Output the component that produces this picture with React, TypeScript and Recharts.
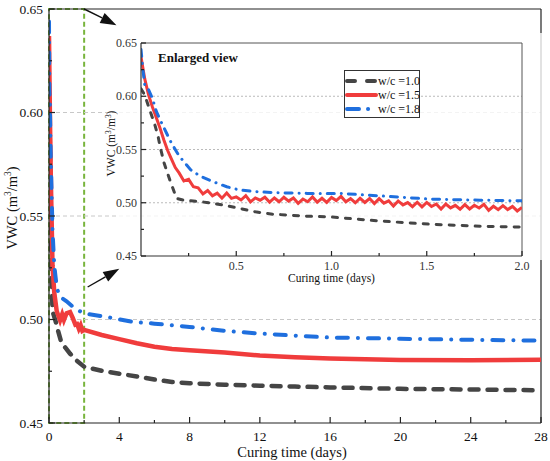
import React from 'react';
import { LineChart, Line, XAxis, YAxis, ReferenceLine, ReferenceArea, Legend } from 'recharts';

const FONT = '"Liberation Serif", "Times New Roman", serif';

// ---------- main chart data (curing time in days, VWC) ----------
const mainT10 = [0, 0.05, 0.1, 0.15, 0.2, 0.35, 0.5, 0.7, 0.9, 1.2, 1.6, 2, 3, 4, 5, 6, 7, 8, 10, 12, 14, 16, 20, 24, 28];
const mainV10 = [0.607, 0.585, 0.553, 0.522, 0.504, 0.5, 0.495, 0.489, 0.4867, 0.4835, 0.48, 0.4772, 0.4752, 0.4738, 0.4725, 0.471, 0.4698, 0.4692, 0.4685, 0.468, 0.4676, 0.4672, 0.4665, 0.4662, 0.4658];

const mainT15 = [0, 0.05, 0.1, 0.2, 0.3, 0.44, 0.63, 0.75, 0.85, 1.0, 1.2, 1.35, 1.5, 1.6, 1.7, 1.8, 1.9, 2.0, 3, 4, 5, 6, 7, 8, 10, 12, 14, 16, 20, 24, 28];
const mainV15 = [0.637, 0.6, 0.57, 0.526, 0.513, 0.504, 0.4996, 0.5025, 0.4998, 0.503, 0.5036, 0.5008, 0.4975, 0.4978, 0.4955, 0.4972, 0.4945, 0.495, 0.4925, 0.4905, 0.4885, 0.4868, 0.4858, 0.4851, 0.484, 0.4826, 0.4818, 0.4812, 0.4804, 0.4803, 0.4805];

const mainT18 = [0, 0.02, 0.05, 0.1, 0.2, 0.3, 0.45, 0.63, 1.0, 1.38, 1.95, 3.3, 4.8, 6, 8, 10, 12, 14, 16, 20, 24, 28];
const mainV18 = [0.644, 0.61, 0.604, 0.578, 0.543, 0.526, 0.515, 0.5109, 0.5088, 0.506, 0.503, 0.5012, 0.4988, 0.498, 0.4964, 0.4945, 0.4932, 0.4922, 0.4913, 0.4907, 0.4902, 0.4898];

// ---------- inset (enlarged view, 0–2 days) ----------
const insetT10 = [0, 0.02, 0.05, 0.073, 0.09, 0.1, 0.12, 0.152, 0.187, 0.22, 0.345, 0.43, 0.52, 0.6, 0.69, 0.87, 1.0, 1.25, 1.52, 1.78, 2.0];
const insetV10 = [0.607, 0.601, 0.585, 0.573, 0.562, 0.553, 0.538, 0.521, 0.504, 0.5025, 0.5003, 0.498, 0.4946, 0.4915, 0.4893, 0.4874, 0.4866, 0.4829, 0.4798, 0.4779, 0.4772];

const insetT15 = [
  0, 0.02, 0.04, 0.06, 0.08, 0.1, 0.12, 0.14, 0.16, 0.18,
  0.2, 0.225, 0.25, 0.275, 0.3, 0.325, 0.35, 0.375, 0.4, 0.425, 0.45, 0.475,
  0.5, 0.525, 0.55, 0.575, 0.6, 0.625, 0.65, 0.675, 0.7, 0.725, 0.75, 0.775,
  0.8, 0.825, 0.85, 0.875, 0.9, 0.925, 0.95, 0.975, 1.0, 1.025, 1.05, 1.075,
  1.1, 1.125, 1.15, 1.175, 1.2, 1.225, 1.25, 1.275, 1.3, 1.325, 1.35, 1.375,
  1.4, 1.425, 1.45, 1.475, 1.5, 1.525, 1.55, 1.575, 1.6, 1.625, 1.65, 1.675,
  1.7, 1.725, 1.75, 1.775, 1.8, 1.825, 1.85, 1.875, 1.9, 1.925, 1.95, 1.975, 2.0,
];
const insetV15 = [
  0.637, 0.616, 0.601, 0.59, 0.58, 0.57, 0.559, 0.549, 0.541, 0.533,
  0.528, 0.5205, 0.522, 0.515, 0.514, 0.5082, 0.5115, 0.5065, 0.509, 0.5043, 0.5092, 0.5041,
  0.5055, 0.5026, 0.5067, 0.5008, 0.5045, 0.5024, 0.5052, 0.5006, 0.5045, 0.5009, 0.5052, 0.5016,
  0.5045, 0.4995, 0.5035, 0.501, 0.5055, 0.5006, 0.5042, 0.5004, 0.505, 0.502, 0.5059, 0.5009,
  0.5038, 0.5, 0.5042, 0.5003, 0.504, 0.4992, 0.5039, 0.4996, 0.5018, 0.497, 0.5017, 0.498,
  0.5002, 0.4963, 0.5005, 0.4961, 0.5003, 0.4965, 0.4988, 0.494, 0.4988, 0.4952, 0.4976, 0.4939,
  0.4983, 0.4942, 0.4976, 0.4951, 0.4985, 0.4928, 0.4967, 0.4935, 0.4973, 0.4936, 0.4965, 0.4923, 0.4956,
];

const insetT18 = [0, 0.01, 0.02, 0.04, 0.06, 0.08, 0.1, 0.135, 0.16, 0.2, 0.26, 0.31, 0.38, 0.45, 0.52, 0.6, 0.7, 0.87, 1.04, 1.25, 1.52, 1.78, 2.0];
const insetV18 = [0.644, 0.625, 0.61, 0.606, 0.598, 0.586, 0.578, 0.565, 0.556, 0.544, 0.531, 0.525, 0.5197, 0.515, 0.5119, 0.5105, 0.5094, 0.5088, 0.5088, 0.5065, 0.5034, 0.5024, 0.5018];

// ---------- axes / ticks ----------
const mainXDomain = [0, 28];
const mainYDomain = [0.45, 0.65];
const mainXTicks = [0, 2, 4, 6, 8, 10, 12, 14, 16, 18, 20, 22, 24, 26, 28];
const mainXMajor = [0, 4, 8, 12, 16, 20, 24, 28];
const yTicks = [0.45, 0.475, 0.5, 0.525, 0.55, 0.575, 0.6, 0.625, 0.65];
const yMajor = [0.45, 0.5, 0.55, 0.6, 0.65];
const gridValues = [0.5, 0.55, 0.6];
const insetXDomain = [0, 2];
const insetXTicks = [0.25, 0.5, 0.75, 1, 1.25, 1.5, 1.75, 2];
const insetXMajor = [0.5, 1, 1.5, 2];
const zoomRange = [0, 2];
const arrowTop = [{ x: 2, y: 0.65 }, { x: 3.84, y: 0.6422 }];
const arrowBottom = [{ x: 2.2, y: 0.5157 }, { x: 4.0, y: 0.5245 }];

const seriesNames = ['w/c =1.0', 'w/c =1.5', 'w/c =1.8'];
const seriesColors = ['#454545', '#f03c3c', '#1f6fde'];

const toPoints = (ts: number[], vs: number[]) => ts.map((t, i) => ({ t, v: vs[i] }));

const isIn = (arr: number[], v: number) => arr.some((m) => Math.abs(m - v) < 1e-9);

function xTick(majors: number[], fmt: (v: number) => string, fs: number, dy: number, color: string, big: number, small: number) {
  return (props: any) => {
    const { x, y, payload } = props;
    const v = payload.value;
    const major = isIn(majors, v);
    return (
      <g>
        <line x1={x} x2={x} y1={y} y2={y - (major ? big : small)} stroke="#222" strokeWidth={1.2} />
        {major && (
          <text x={x} y={y + dy} textAnchor="middle" fontSize={fs} fontFamily={FONT} fill={color}>
            {fmt(v)}
          </text>
        )}
      </g>
    );
  };
}

function yTick(fs: number, dx: number, color: string, big: number, small: number) {
  return (props: any) => {
    const { x, y, payload } = props;
    const v = payload.value;
    const major = isIn(yMajor, v);
    return (
      <g>
        <line x1={x} x2={x + (major ? big : small)} y1={y} y2={y} stroke="#222" strokeWidth={1.2} />
        {major && (
          <text x={x - dx} y={y + fs * 0.34} textAnchor="end" fontSize={fs} fontFamily={FONT} fill={color}>
            {v.toFixed(2)}
          </text>
        )}
      </g>
    );
  };
}

const arrowShape = (p: any) => {
  const { x1, y1, x2, y2 } = p;
  const ang = Math.atan2(y2 - y1, x2 - x1);
  const L = 16;
  const W = 5.5;
  const bx = x2 - L * Math.cos(ang);
  const by = y2 - L * Math.sin(ang);
  const px = -Math.sin(ang) * W;
  const py = Math.cos(ang) * W;
  return (
    <g>
      <line x1={x1} y1={y1} x2={bx} y2={by} stroke="#111" strokeWidth={1.4} />
      <polygon points={`${x2},${y2} ${bx + px},${by + py} ${bx - px},${by - py}`} fill="#111" />
    </g>
  );
};

const vwcLabel = (dx: number, dyc: number, fs: number) => (props: any) => {
  const vb = props.viewBox || { x: 0, y: 0, width: 0, height: 0 };
  const cx = vb.x + dx;
  const cy = vb.y + vb.height / 2 + dyc;
  return (
    <text x={cx} y={cy} transform={`rotate(-90, ${cx}, ${cy})`} textAnchor="middle" fontSize={fs} fontFamily={FONT} fill="#111">
      VWC (m<tspan fontSize={fs * 0.65} dy={-fs * 0.38}>3</tspan>
      <tspan dy={fs * 0.38}>/m</tspan>
      <tspan fontSize={fs * 0.65} dy={-fs * 0.38}>3</tspan>
      <tspan dy={fs * 0.38}>)</tspan>
    </text>
  );
};

const timeLabel = (dy: number, dxc: number, fs: number) => (props: any) => {
  const vb = props.viewBox || { x: 0, y: 0, width: 0, height: 0 };
  return (
    <text x={vb.x + vb.width / 2 + dxc} y={vb.y + dy} textAnchor="middle" fontSize={fs} fontFamily={FONT} fill="#111">
      Curing time (days)
    </text>
  );
};

const legendDash = ['8 12', '', '12 9 0.1 10'];

const LegendBox = (props: any) => {
  const payload = props.payload || [];
  return (
    <div style={{ border: '1px solid #333', background: '#fff', width: 76, height: 48, boxSizing: 'border-box', fontFamily: FONT }}>
      {payload.map((e: any, i: number) => {
        const idx = seriesNames.indexOf(e.value);
        return (
          <div key={i} style={{ display: 'flex', alignItems: 'center', height: 14.3, marginTop: i === 0 ? 2.5 : 0 }}>
            <svg width={33} height={10} style={{ display: 'block', flex: 'none' }}>
              <line x1={2} x2={31} y1={5} y2={5} stroke={e.color} strokeWidth={4} strokeLinecap="round" strokeDasharray={legendDash[idx] || undefined} />
            </svg>
            <span style={{ fontSize: 12, color: '#111', whiteSpace: 'nowrap', lineHeight: '14px' }}>{e.value}</span>
          </div>
        );
      })}
    </div>
  );
};

export default function App() {
  const m10 = toPoints(mainT10, mainV10);
  const m15 = toPoints(mainT15, mainV15);
  const m18 = toPoints(mainT18, mainV18);
  const i10 = toPoints(insetT10, insetV10);
  const i15 = toPoints(insetT15, insetV15);
  const i18 = toPoints(insetT18, insetV18);

  return (
    <div style={{ position: 'absolute', left: 0, top: 0, width: 550, height: 461, background: '#fff', overflow: 'hidden' }}>
      <div style={{ position: 'absolute', left: 0, top: 0 }}>
        <LineChart width={550} height={461} margin={{ top: 9, right: 9, bottom: 0, left: 0 }}>
          <XAxis
            dataKey="t"
            type="number"
            domain={mainXDomain}
            allowDataOverflow
            ticks={mainXTicks}
            interval={0}
            height={38}
            tickSize={0}
            tickMargin={0}
            tickLine={false}
            axisLine={{ stroke: '#222', strokeWidth: 1.2 }}
            tick={xTick(mainXMajor, (v) => String(v), 13.5, 18, '#111', 6, 3)}
            label={timeLabel(33.5, -3, 14.5)}
          />
          <YAxis
            type="number"
            domain={mainYDomain}
            allowDataOverflow
            ticks={yTicks}
            interval={0}
            width={49}
            tickSize={0}
            tickMargin={0}
            tickLine={false}
            axisLine={{ stroke: '#222', strokeWidth: 1.2 }}
            tick={yTick(13.5, 6, '#111', 6, 3)}
            label={vwcLabel(17, -8, 14.5)}
          />
          {gridValues.map((g) => (
            <ReferenceLine key={g} y={g} stroke="#c8c8c8" strokeDasharray="4 3" strokeWidth={1} />
          ))}
          <ReferenceLine y={mainYDomain[1]} stroke="#222" strokeWidth={1.2} />
          <ReferenceLine x={mainXDomain[1]} stroke="#222" strokeWidth={1.2} />
          <Line data={m10} dataKey="v" name={seriesNames[0]} stroke={seriesColors[0]} strokeWidth={4.5} strokeDasharray="9 9" strokeLinecap="round" dot={false} isAnimationActive={false} />
          <Line data={m15} dataKey="v" name={seriesNames[1]} stroke={seriesColors[1]} strokeWidth={4.5} dot={false} isAnimationActive={false} />
          <Line data={m18} dataKey="v" name={seriesNames[2]} stroke={seriesColors[2]} strokeWidth={4} strokeDasharray="11 10 0.1 10" strokeLinecap="round" dot={false} isAnimationActive={false} />
          <ReferenceArea x1={zoomRange[0]} x2={zoomRange[1]} y1={mainYDomain[0]} y2={mainYDomain[1]} fill="none" fillOpacity={0} stroke="#78b43c" strokeWidth={2} strokeDasharray="5 3" />
          <ReferenceLine segment={arrowTop} shape={arrowShape} />
          <ReferenceLine segment={arrowBottom} shape={arrowShape} />
        </LineChart>
      </div>

      <div style={{ position: 'absolute', left: 117, top: 33, width: 432, height: 227, background: 'rgba(255,255,255,0.78)' }} />

      <div style={{ position: 'absolute', left: 95, top: 33 }}>
        <LineChart width={446} height={253} margin={{ top: 10, right: 19, bottom: 2, left: 0 }}>
          <XAxis
            dataKey="t"
            type="number"
            domain={insetXDomain}
            allowDataOverflow
            ticks={insetXTicks}
            interval={0}
            height={28}
            tickSize={0}
            tickMargin={0}
            tickLine={false}
            axisLine={{ stroke: '#333', strokeWidth: 1.2 }}
            tick={xTick(insetXMajor, (v) => v.toFixed(1), 12, 14, '#333', 5, 3)}
            label={timeLabel(26, 0, 11.5)}
          />
          <YAxis
            type="number"
            domain={mainYDomain}
            allowDataOverflow
            ticks={yTicks}
            interval={0}
            width={46}
            tickSize={0}
            tickMargin={0}
            tickLine={false}
            axisLine={{ stroke: '#333', strokeWidth: 1.2 }}
            tick={yTick(12, 4, '#333', 5, 3)}
            label={vwcLabel(20, -6, 11.5)}
          />
          {gridValues.map((g) => (
            <ReferenceLine key={g} y={g} stroke="#bbbbbb" strokeDasharray="2 2" strokeWidth={1} />
          ))}
          <ReferenceLine y={mainYDomain[1]} stroke="#555" strokeWidth={1} />
          <ReferenceLine x={insetXDomain[1]} stroke="#555" strokeWidth={1} />
          <Line data={i10} dataKey="v" name={seriesNames[0]} stroke={seriesColors[0]} strokeWidth={3} strokeDasharray="5 8" strokeLinecap="round" dot={false} isAnimationActive={false} />
          <Line data={i15} dataKey="v" name={seriesNames[1]} stroke={seriesColors[1]} strokeWidth={3} dot={false} isAnimationActive={false} />
          <Line data={i18} dataKey="v" name={seriesNames[2]} stroke={seriesColors[2]} strokeWidth={3} strokeDasharray="7 7 0.1 7" strokeLinecap="round" dot={false} isAnimationActive={false} />
          <Legend
            layout="vertical"
            align="center"
            verticalAlign="middle"
            content={<LegendBox />}
            wrapperStyle={{ position: 'absolute', left: 249, top: 37, width: 76, height: 48 }}
          />
        </LineChart>
        <div style={{ position: 'absolute', left: 63, top: 18, fontFamily: FONT, fontWeight: 'bold', fontSize: 13, lineHeight: '13px', color: '#111', whiteSpace: 'nowrap' }}>
          Enlarged view
        </div>
      </div>
    </div>
  );
}
